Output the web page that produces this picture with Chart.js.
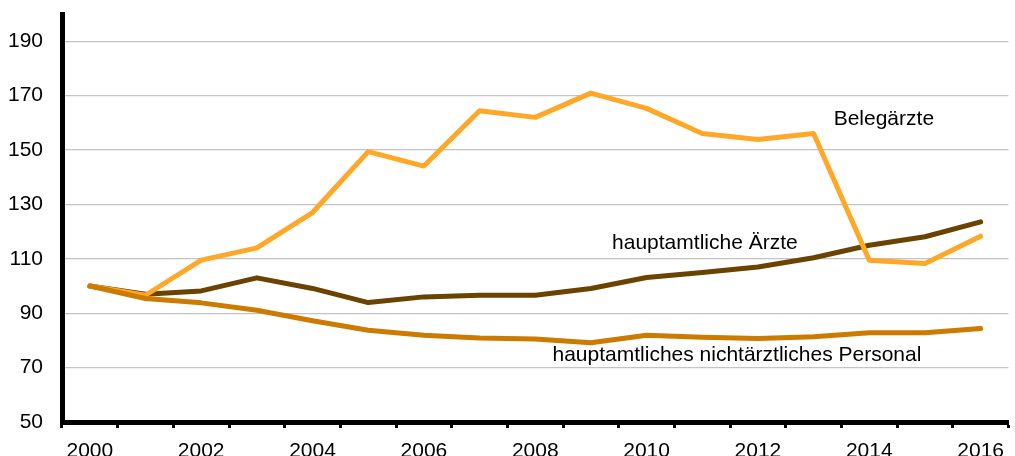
<!DOCTYPE html>
<html lang="de">
<head>
<meta charset="utf-8">
<title>Personalentwicklung</title>
<script src="https://cdn.jsdelivr.net/npm/chart.js@4"></script>
<style>
  html, body { margin: 0; padding: 0; background: #fff; }
  .chart-container { position: relative; width: 1015px; height: 456px; }
</style>
</head>
<body>
<div class="chart-container">
  <canvas id="staffChart"></canvas>
</div>
<script>
// data (index, 2000 = 100)
const years = ['2000', '2001', '2002', '2003', '2004', '2005', '2006', '2007', '2008',
  '2009', '2010', '2011', '2012', '2013', '2014', '2015', '2016'];
const belegaerzte = [100, 96.6, 109.5, 114, 127, 149.4, 144.1, 164.4, 162, 170.9,
  165.3, 156.1, 153.9, 156.1, 109.5, 108.3, 118.3];
const hauptamtlicheAerzte = [100, 97, 98.2, 103, 99.1, 93.9, 96, 96.6, 96.6, 99.1,
  103.1, 105, 107, 110.4, 115, 118.1, 123.6];
const nichtaerztlichesPersonal = [100, 95.4, 93.8, 91.1, 87.2, 83.7, 81.9, 80.9, 80.5, 79.1,
  81.9, 81.2, 80.7, 81.3, 82.8, 82.8, 84.4];
const yTicks = [50, 70, 90, 110, 130, 150, 170, 190];

// series labels placed inside the plot (x = category index, y = value)
const seriesLabels = [
  { text: 'Belegärzte', x: 13.36, y: 161.5 },
  { text: 'hauptamtliche Ärzte', x: 9.38, y: 115.8 },
  { text: 'hauptamtliches nichtärztliches Personal', x: 8.31, y: 74.5 }
];

const fontFamily = '"Liberation Sans", Arial, sans-serif';

// draws the series labels using the chart's scales
const seriesLabelPlugin = {
  id: 'seriesLabels',
  afterDatasetsDraw(chart) {
    const ctx = chart.ctx;
    const xScale = chart.scales.x;
    const yScale = chart.scales.y;
    ctx.save();
    ctx.font = '21px ' + fontFamily;
    ctx.fillStyle = '#000';
    ctx.textAlign = 'left';
    ctx.textBaseline = 'middle';
    seriesLabels.forEach(label => {
      ctx.fillText(label.text, xScale.getPixelForValue(label.x), yScale.getPixelForValue(label.y));
    });
    ctx.restore();
  }
};

function makeLine(label, data, color) {
  return {
    label: label,
    data: data,
    borderColor: color,
    backgroundColor: color,
    borderWidth: 5,
    pointRadius: 0,
    tension: 0,
    borderCapStyle: 'round',
    borderJoinStyle: 'round'
  };
}

const chartConfigs = {
  type: 'line',
  data: {
    labels: years,
    datasets: [
      makeLine('hauptamtliches nichtärztliches Personal', nichtaerztlichesPersonal, '#CC7A00'),
      makeLine('Belegärzte', belegaerzte, '#FFA828'),
      makeLine('hauptamtliche Ärzte', hauptamtlicheAerzte, '#6B4300')
    ]
  },
  plugins: [seriesLabelPlugin],
  options: {
    responsive: true,
    maintainAspectRatio: false,
    animation: false,
    layout: { padding: { top: 14, right: 0, left: 0, bottom: 0 } },
    plugins: {
      legend: { display: false },
      tooltip: { enabled: false }
    },
    scales: {
      x: {
        offset: true,
        grid: {
          offset: true,
          drawOnChartArea: false,
          drawTicks: true,
          tickLength: 6,
          tickWidth: 3,
          tickColor: '#000'
        },
        border: { color: '#000', width: 5 },
        ticks: {
          autoSkip: false,
          maxRotation: 0,
          padding: 11,
          color: '#000',
          font: { family: fontFamily, size: 21 },
          callback: function(value, index) {
            return index % 2 === 0 ? years[index] : '';
          }
        },
        afterFit: function(scale) {
          scale.height = 34;
        }
      },
      y: {
        min: 50,
        max: 200,
        grid: {
          color: '#C4C4C4',
          lineWidth: 1.2,
          drawTicks: false
        },
        border: { color: '#000', width: 5 },
        ticks: {
          padding: 19,
          color: '#000',
          font: { family: fontFamily, size: 21 }
        },
        afterBuildTicks: function(scale) {
          scale.ticks = yTicks.map(v => ({ value: v }));
        },
        afterFit: function(scale) {
          // no extra room for the top label, the axis starts right under the padding
          scale.width = 62;
          scale.paddingTop = 0;
          scale.paddingBottom = 0;
        }
      }
    }
  }
};

const ctx = document.getElementById('staffChart');
const staffChart = new Chart(ctx, chartConfigs);
</script>
</body>
</html>
